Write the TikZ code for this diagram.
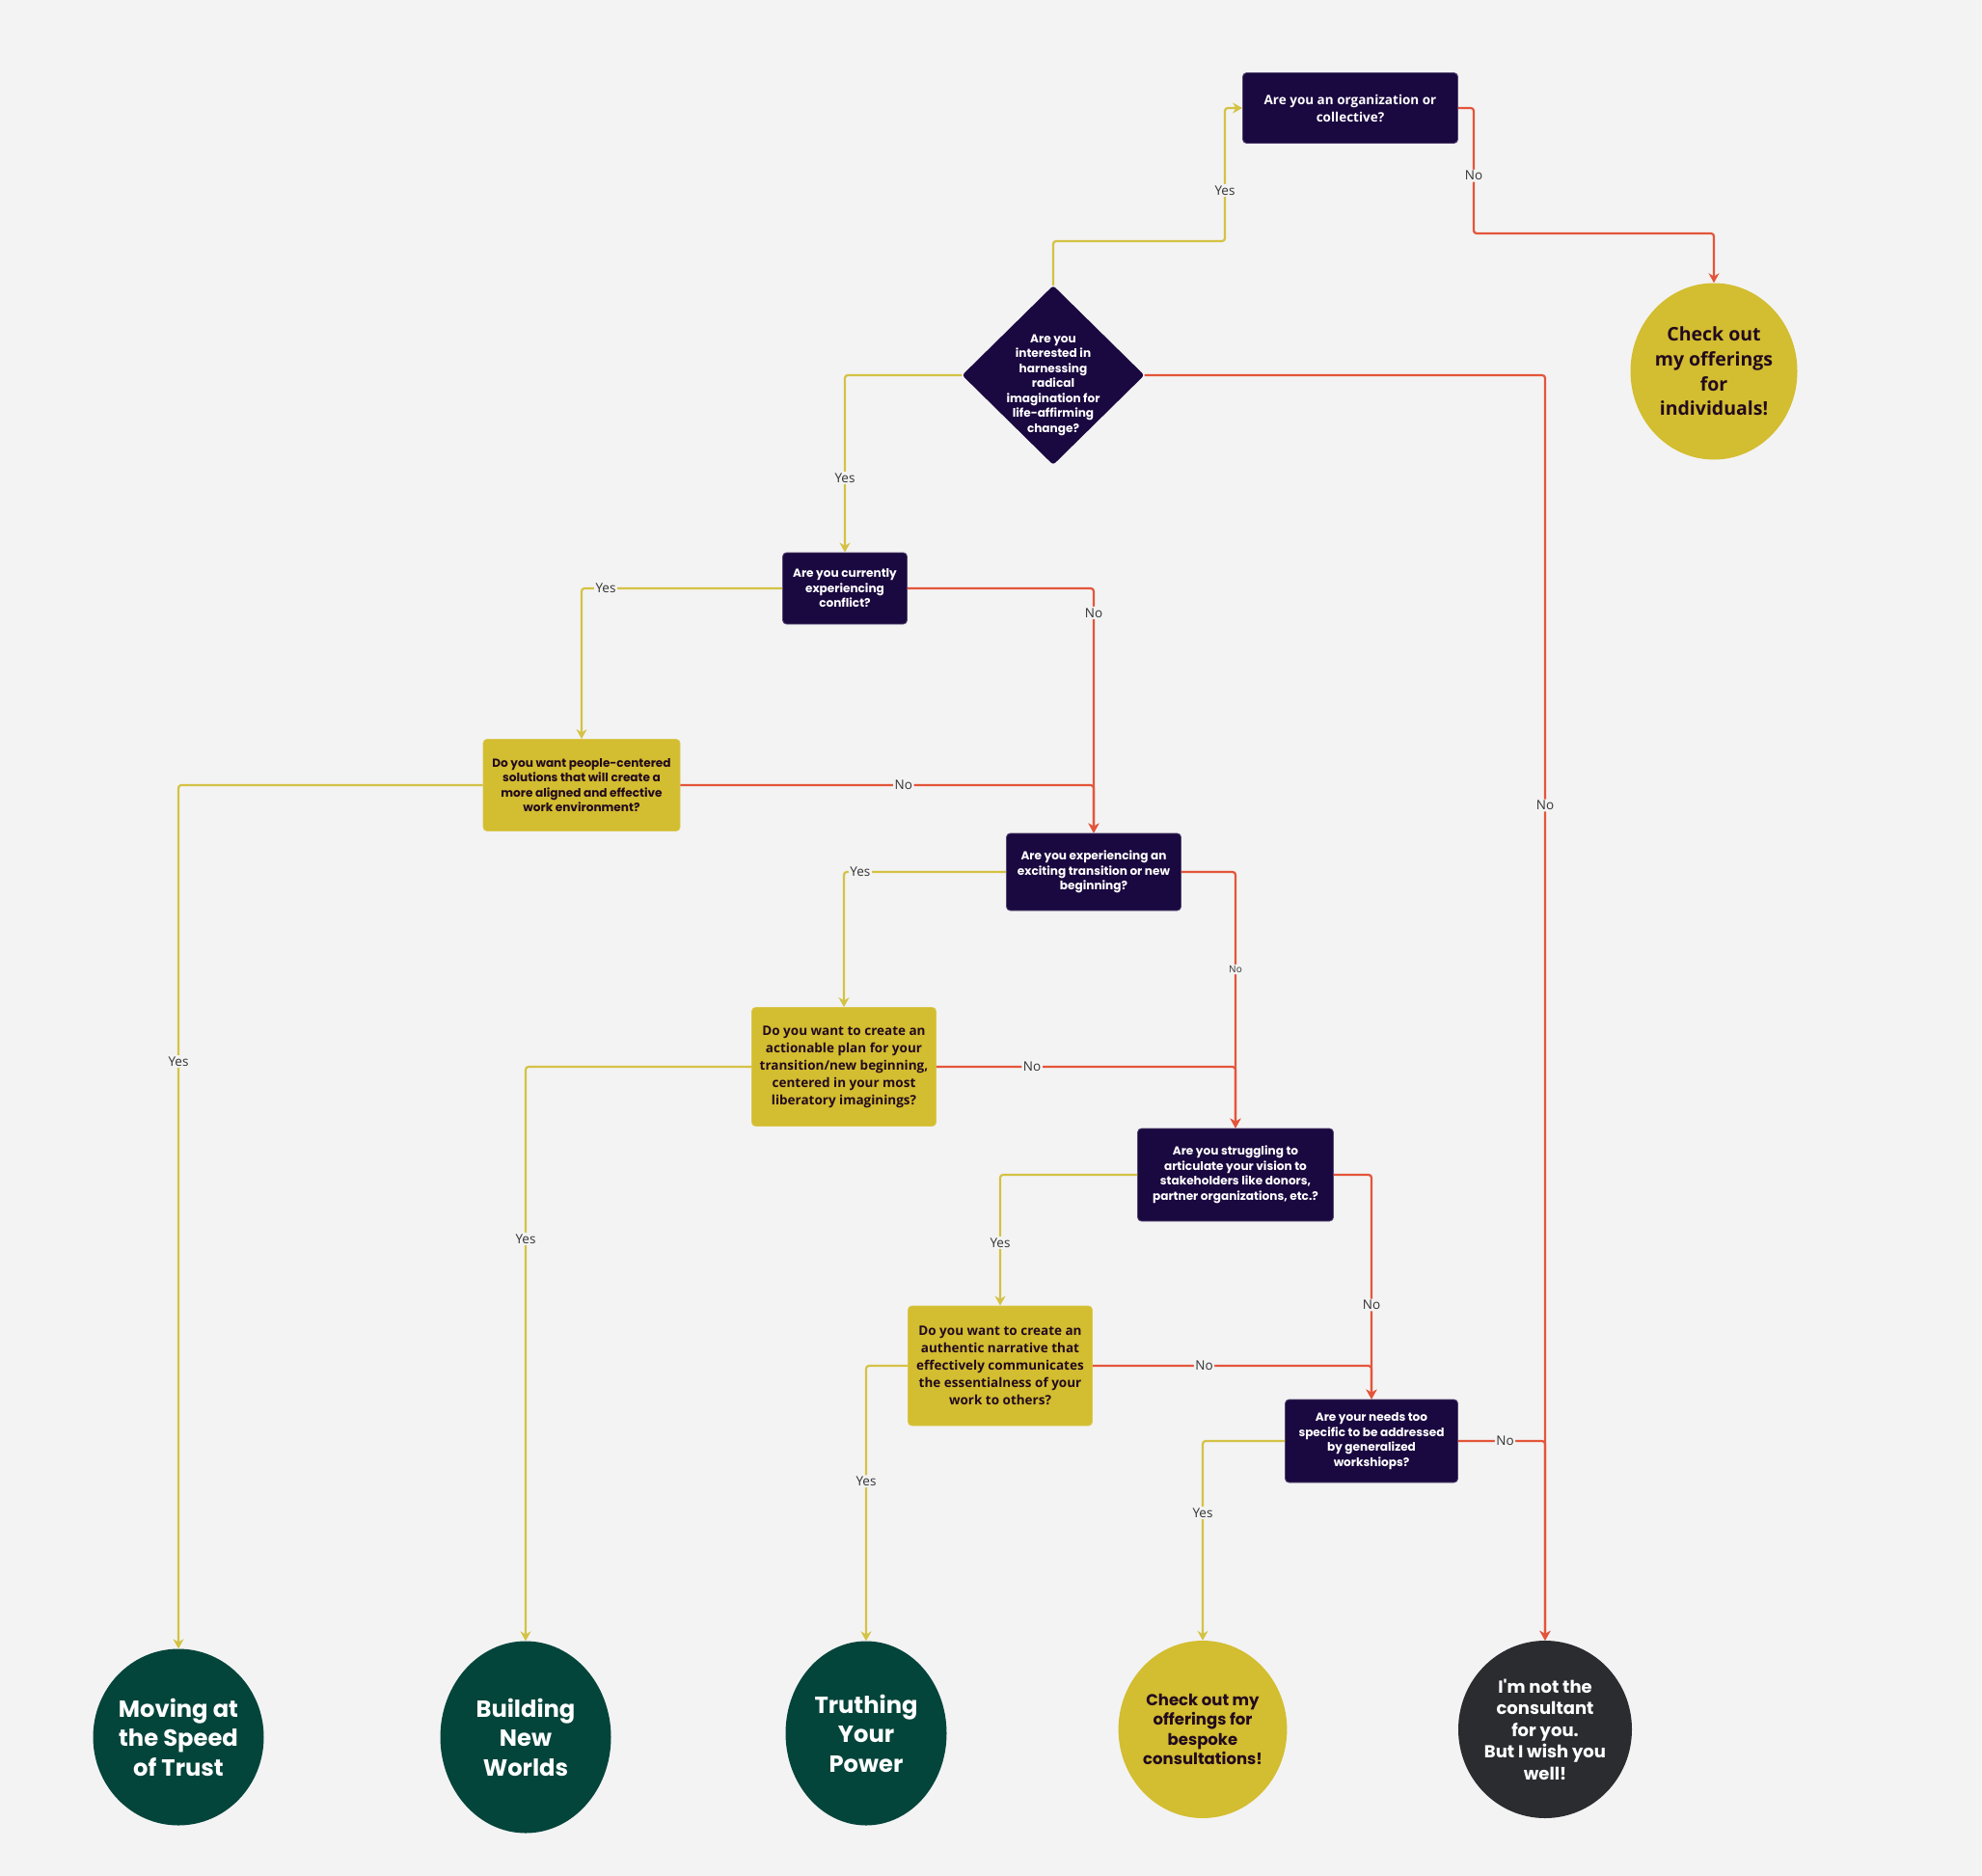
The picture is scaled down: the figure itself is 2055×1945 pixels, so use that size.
\documentclass[tikz,border=0pt]{standalone}
\usepackage{fontspec}
\setmainfont{Open Sans}
\newfontfamily\geofont{Poppins}
\usetikzlibrary{arrows.meta,positioning,shapes.geometric}
\definecolor{PageBg}{HTML}{F3F3F3}
\definecolor{DeepNavy}{HTML}{1A0840}
\definecolor{Mustard}{HTML}{D3BD30}
\definecolor{LineGold}{HTML}{D4C244}
\definecolor{LineRed}{HTML}{E4553A}
\definecolor{Forest}{HTML}{04453B}
\definecolor{Charcoal}{HTML}{2B2C30}
\definecolor{InkDark}{HTML}{220A1E}
\newcommand{\qfont}{\geofont\bfseries\fontsize{12.1}{15.5}\selectfont}
\newcommand{\ofont}{\bfseries\fontsize{13.5}{18}\selectfont}
\newcommand{\lfont}{\fontsize{13.5}{16}\selectfont}
\newcommand{\bigfont}{\geofont\bfseries\fontsize{24.2}{30.5}\selectfont}

\begin{document}
\begin{tikzpicture}[x=1pt,y=-1pt,
navybox/.style={rectangle,rounded corners=4pt,fill=DeepNavy,draw=DeepNavy!75!white,line width=.8pt,text=white,align=center,inner sep=0pt,font=\qfont},
goldbox/.style={rectangle,rounded corners=4pt,fill=Mustard,draw=Mustard!85!white,line width=.8pt,text=InkDark,align=center,inner sep=0pt,font=\ofont},
endnode/.style={ellipse,inner sep=0pt,align=center},
yesln/.style={draw=LineGold,line width=2.2pt,rounded corners=3pt,-{Stealth[length=10pt,width=11pt]}},
noln/.style={draw=LineRed,line width=2.2pt,rounded corners=3pt,-{Stealth[length=10pt,width=11pt]}},
lab/.style={fill=PageBg,text=black!80,font=\lfont,inner sep=1.5pt}]
\useasboundingbox[fill=PageBg] (0,0) rectangle (2055,1945);

% questions
\node[navybox,font=\ofont,minimum width=223pt,minimum height=73pt] (org) at (1400,112) {Are you an organization or\\collective?};
\node[diamond,fill=DeepNavy,rounded corners=3pt,minimum width=189pt,minimum height=186pt,inner sep=0pt,
  label={[text=white,align=center,font=\qfont,yshift=-10pt]center:{Are you\\interested in\\harnessing\\radical\\imagination for\\life-affirming\\change?}}] (dia) at (1092,389) {};
\node[navybox,minimum width=129pt,minimum height=74pt] (conf) at (876,610) {Are you currently\\experiencing\\conflict?};
\node[goldbox,font=\qfont,minimum width=204pt,minimum height=95pt] (people) at (603,814) {Do you want people-centered\\solutions that will create a\\more aligned and effective\\work environment?};
\node[navybox,minimum width=181pt,minimum height=80pt] (trans) at (1134,904) {Are you experiencing an\\exciting transition or new\\beginning?};
\node[goldbox,minimum width=191pt,minimum height=123pt] (act) at (875,1106) {Do you want to create an\\actionable plan for your\\transition/new beginning,\\centered in your most\\liberatory imaginings?};
\node[navybox,minimum width=203pt,minimum height=96pt] (strug) at (1281,1218) {Are you struggling to\\articulate your vision to\\stakeholders like donors,\\partner organizations, etc.?};
\node[goldbox,minimum width=191pt,minimum height=124pt] (auth) at (1037,1416) {Do you want to create an\\authentic narrative that\\effectively communicates\\the essentialness of your\\work to others?};
\node[navybox,minimum width=179pt,minimum height=86pt] (needs) at (1422,1494) {Are your needs too\\specific to be addressed\\by generalized\\workshiops?};

% outcomes
\node[endnode,fill=Mustard,text=InkDark,font=\bfseries\fontsize{19.5}{25.7}\selectfont,minimum width=168pt,minimum height=183pt] (indiv) at (1777,385) {Check out\\my offerings\\for\\individuals!};
\node[endnode,fill=Forest,text=white,font=\bigfont,minimum width=177pt,minimum height=183pt] (moving) at (185,1801) {Moving at\\the Speed\\of Trust};
\node[endnode,fill=Forest,text=white,font=\bigfont,minimum width=177pt,minimum height=199pt] (build) at (545,1801) {Building\\New\\Worlds};
\node[endnode,fill=Forest,text=white,font=\bigfont,minimum width=167pt,minimum height=191pt] (truth) at (898,1797) {Truthing\\Your\\Power};
\node[endnode,fill=Mustard,text=InkDark,font=\geofont\bfseries\fontsize{16.5}{20.5}\selectfont,minimum width=166pt,minimum height=184pt] (besp) at (1247,1793) {Check out my\\offerings for\\bespoke\\consultations!};
\node[endnode,fill=Charcoal,text=white,font=\geofont\bfseries\fontsize{18}{22.5}\selectfont,minimum width=180pt,minimum height=184pt] (cons) at (1602,1793) {I'm not the\\consultant\\for you.\\But I wish you\\well!};

\coordinate (upY) at (1270,250);
\coordinate (turnR) at (1528,242);

% yes branches
\draw[yesln] (dia.north) |- (upY) |- node[lab,pos=.19]{Yes} (org.west);
\draw[yesln] (dia.west) -| node[lab,pos=.79]{Yes} (conf.north);
\draw[yesln] (conf.west) -| node[lab,pos=.44]{Yes} (people.north);
\draw[yesln] (people.west) -| node[lab,pos=.66]{Yes} (moving.north);
\draw[yesln] (trans.west) -| node[lab,pos=.45]{Yes} (act.north);
\draw[yesln] (act.west) -| node[lab,pos=.65]{Yes} (build.north);
\draw[yesln] (strug.west) -| node[lab,pos=.76]{Yes} (auth.north);
\draw[yesln] (auth.west) -| node[lab,pos=.71]{Yes} (truth.north);
\draw[yesln] (needs.west) -| node[lab,pos=.68]{Yes} (besp.north);

% no branches
\draw[noln] (org.east) -| node[lab,pos=.77]{No} (turnR) -| (indiv.north);
\draw[noln] (dia.east) -| node[lab,pos=.67]{No} (cons.north);
\draw[noln] (conf.east) -| node[lab,pos=.55]{No} (trans.north);
\draw[noln] (people.east) -| node[lab,pos=.27]{No} (trans.north);
\draw[noln] (trans.east) -| node[lab,pos=.69,font=\fontsize{10}{12}\selectfont]{No} (strug.north);
\draw[noln] (act.east) -| node[lab,pos=.16]{No} (strug.north);
\draw[noln] (strug.east) -| node[lab,pos=.79]{No} (needs.north);
\draw[noln] (auth.east) -| node[lab,pos=.2]{No} (needs.north);
\draw[noln] (needs.east) -| node[lab,pos=.27]{No} (cons.north);
\end{tikzpicture}
\end{document}
